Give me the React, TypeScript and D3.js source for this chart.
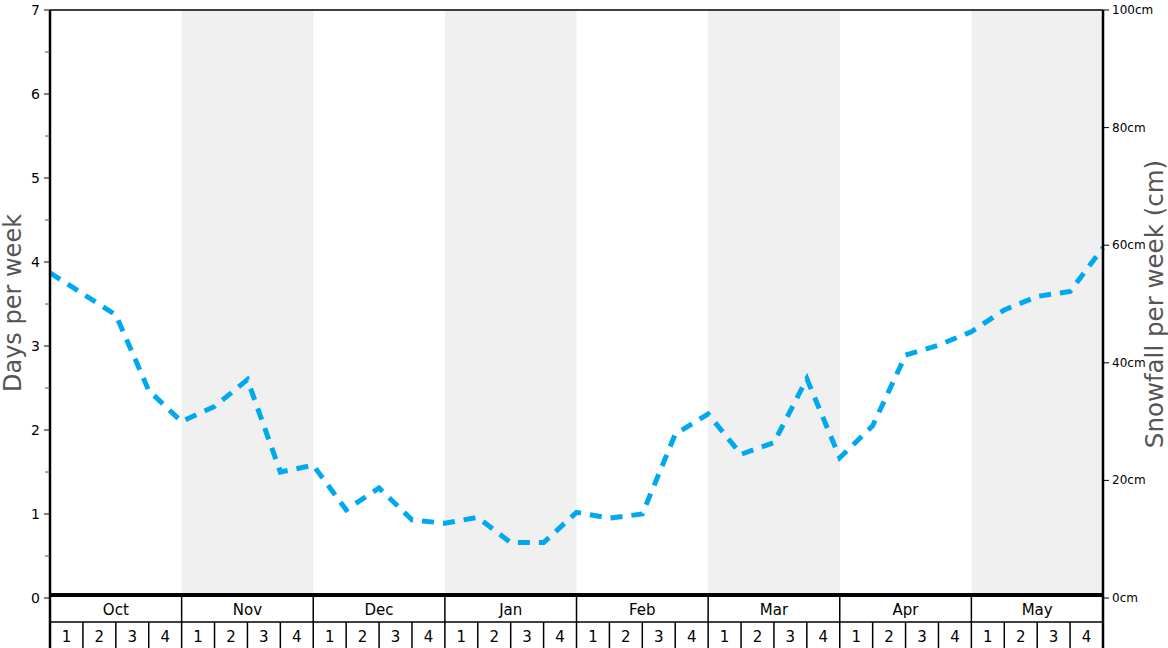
import React from "react";
import * as d3 from "d3";

const months = ["Oct", "Nov", "Dec", "Jan", "Feb", "Mar", "Apr", "May"];
const weeks = ["1", "2", "3", "4"];
const daysTicks = [0, 1, 2, 3, 4, 5, 6, 7];
const snowTicks = [0, 20, 40, 60, 80, 100];
// days per week at each week boundary (33 points)
const daysValues = [
  3.87, 3.62, 3.37, 2.47, 2.1, 2.28, 2.6, 1.5, 1.58, 1.05, 1.31, 0.93, 0.89,
  0.96, 0.66, 0.66, 1.02, 0.95, 1.0, 1.95, 2.19, 1.71, 1.85, 2.61, 1.67, 2.05,
  2.89, 3.01, 3.17, 3.43, 3.59, 3.65, 4.17,
];

const W = 1168;
const H = 648;
const L = 50;
const R = 1103;
const T = 10;
const B = 598;

export default function App() {
  const x = d3.scaleLinear().domain([0, daysValues.length - 1]).range([L, R]);
  const y = d3.scaleLinear().domain([0, 7]).range([B, T]);
  const ySnow = d3.scaleLinear().domain([0, 100]).range([B, T]);
  const mBand = d3.scaleBand<string>().domain(months).range([L, R]);
  const weekW = mBand.bandwidth() / 4;
  const line = d3
    .line<number>()
    .x((_, i) => x(i))
    .y((d) => y(d));
  const minor = d3.range(0.5, 7, 1);
  const font = "DejaVu Sans, sans-serif";

  return (
    <svg
      width={W}
      height={H}
      style={{ position: "absolute", left: 0, top: 0, background: "#fff" }}
      fontFamily={font}
    >
      {months.map((m, i) =>
        i % 2 === 1 ? (
          <rect
            key={m}
            x={mBand(m)}
            y={T}
            width={mBand.bandwidth()}
            height={593 - T}
            fill="#f0f0f0"
          />
        ) : null
      )}
      <line x1={L} x2={R} y1={T} y2={T} stroke="#000" strokeWidth={1.5} />
      <path
        d={line(daysValues) || ""}
        fill="none"
        stroke="#00a9ef"
        strokeWidth={5}
        strokeDasharray="12,9"
      />
      <rect x={L} y={593} width={R - L} height={4} fill="#000" />
      {/* left axis */}
      <line x1={L} x2={L} y1={T} y2={H} stroke="#000" strokeWidth={2.5} />
      {daysTicks.map((t) => (
        <g key={t}>
          <line x1={L - 6} x2={L} y1={y(t)} y2={y(t)} stroke="#000" />
          <text x={L - 10} y={y(t) + 5} textAnchor="end" fontSize={14} fill="#000">
            {t}
          </text>
        </g>
      ))}
      {minor.map((t) => (
        <line key={t} x1={L - 5} x2={L} y1={y(t)} y2={y(t)} stroke="#555" />
      ))}
      {/* right axis */}
      <line x1={R} x2={R} y1={T} y2={H} stroke="#000" strokeWidth={2.5} />
      {snowTicks.map((t) => (
        <g key={t}>
          <line x1={R} x2={R + 6} y1={ySnow(t)} y2={ySnow(t)} stroke="#000" />
          <text x={R + 9} y={ySnow(t) + 4} fontSize={12} fill="#000">
            {t}cm
          </text>
        </g>
      ))}
      {/* axis titles */}
      <text
        transform={`translate(21,${303}) rotate(-90)`}
        textAnchor="middle"
        fontSize={24}
        fill="#555"
      >
        Days per week
      </text>
      <text
        transform={`translate(1163,${304}) rotate(-90)`}
        textAnchor="middle"
        fontSize={24.5}
        fill="#555"
      >
        Snowfall per week (cm)
      </text>
      {/* month / week table */}
      <line x1={L} x2={R} y1={622} y2={622} stroke="#000" strokeWidth={1.5} />
      {months.map((m) => {
        const mx = mBand(m) as number;
        return (
          <g key={m}>
            <line x1={mx} x2={mx} y1={597} y2={H} stroke="#000" strokeWidth={1.5} />
            <text
              x={mx + mBand.bandwidth() / 2}
              y={615}
              textAnchor="middle"
              fontSize={15}
              fill="#000"
            >
              {m}
            </text>
            {weeks.map((w, j) => (
              <g key={w}>
                {j > 0 ? (
                  <line
                    x1={mx + j * weekW}
                    x2={mx + j * weekW}
                    y1={622}
                    y2={H}
                    stroke="#000"
                    strokeWidth={1.5}
                  />
                ) : null}
                <text
                  x={mx + (j + 0.5) * weekW}
                  y={642}
                  textAnchor="middle"
                  fontSize={15}
                  fill="#000"
                >
                  {w}
                </text>
              </g>
            ))}
          </g>
        );
      })}
    </svg>
  );
}
